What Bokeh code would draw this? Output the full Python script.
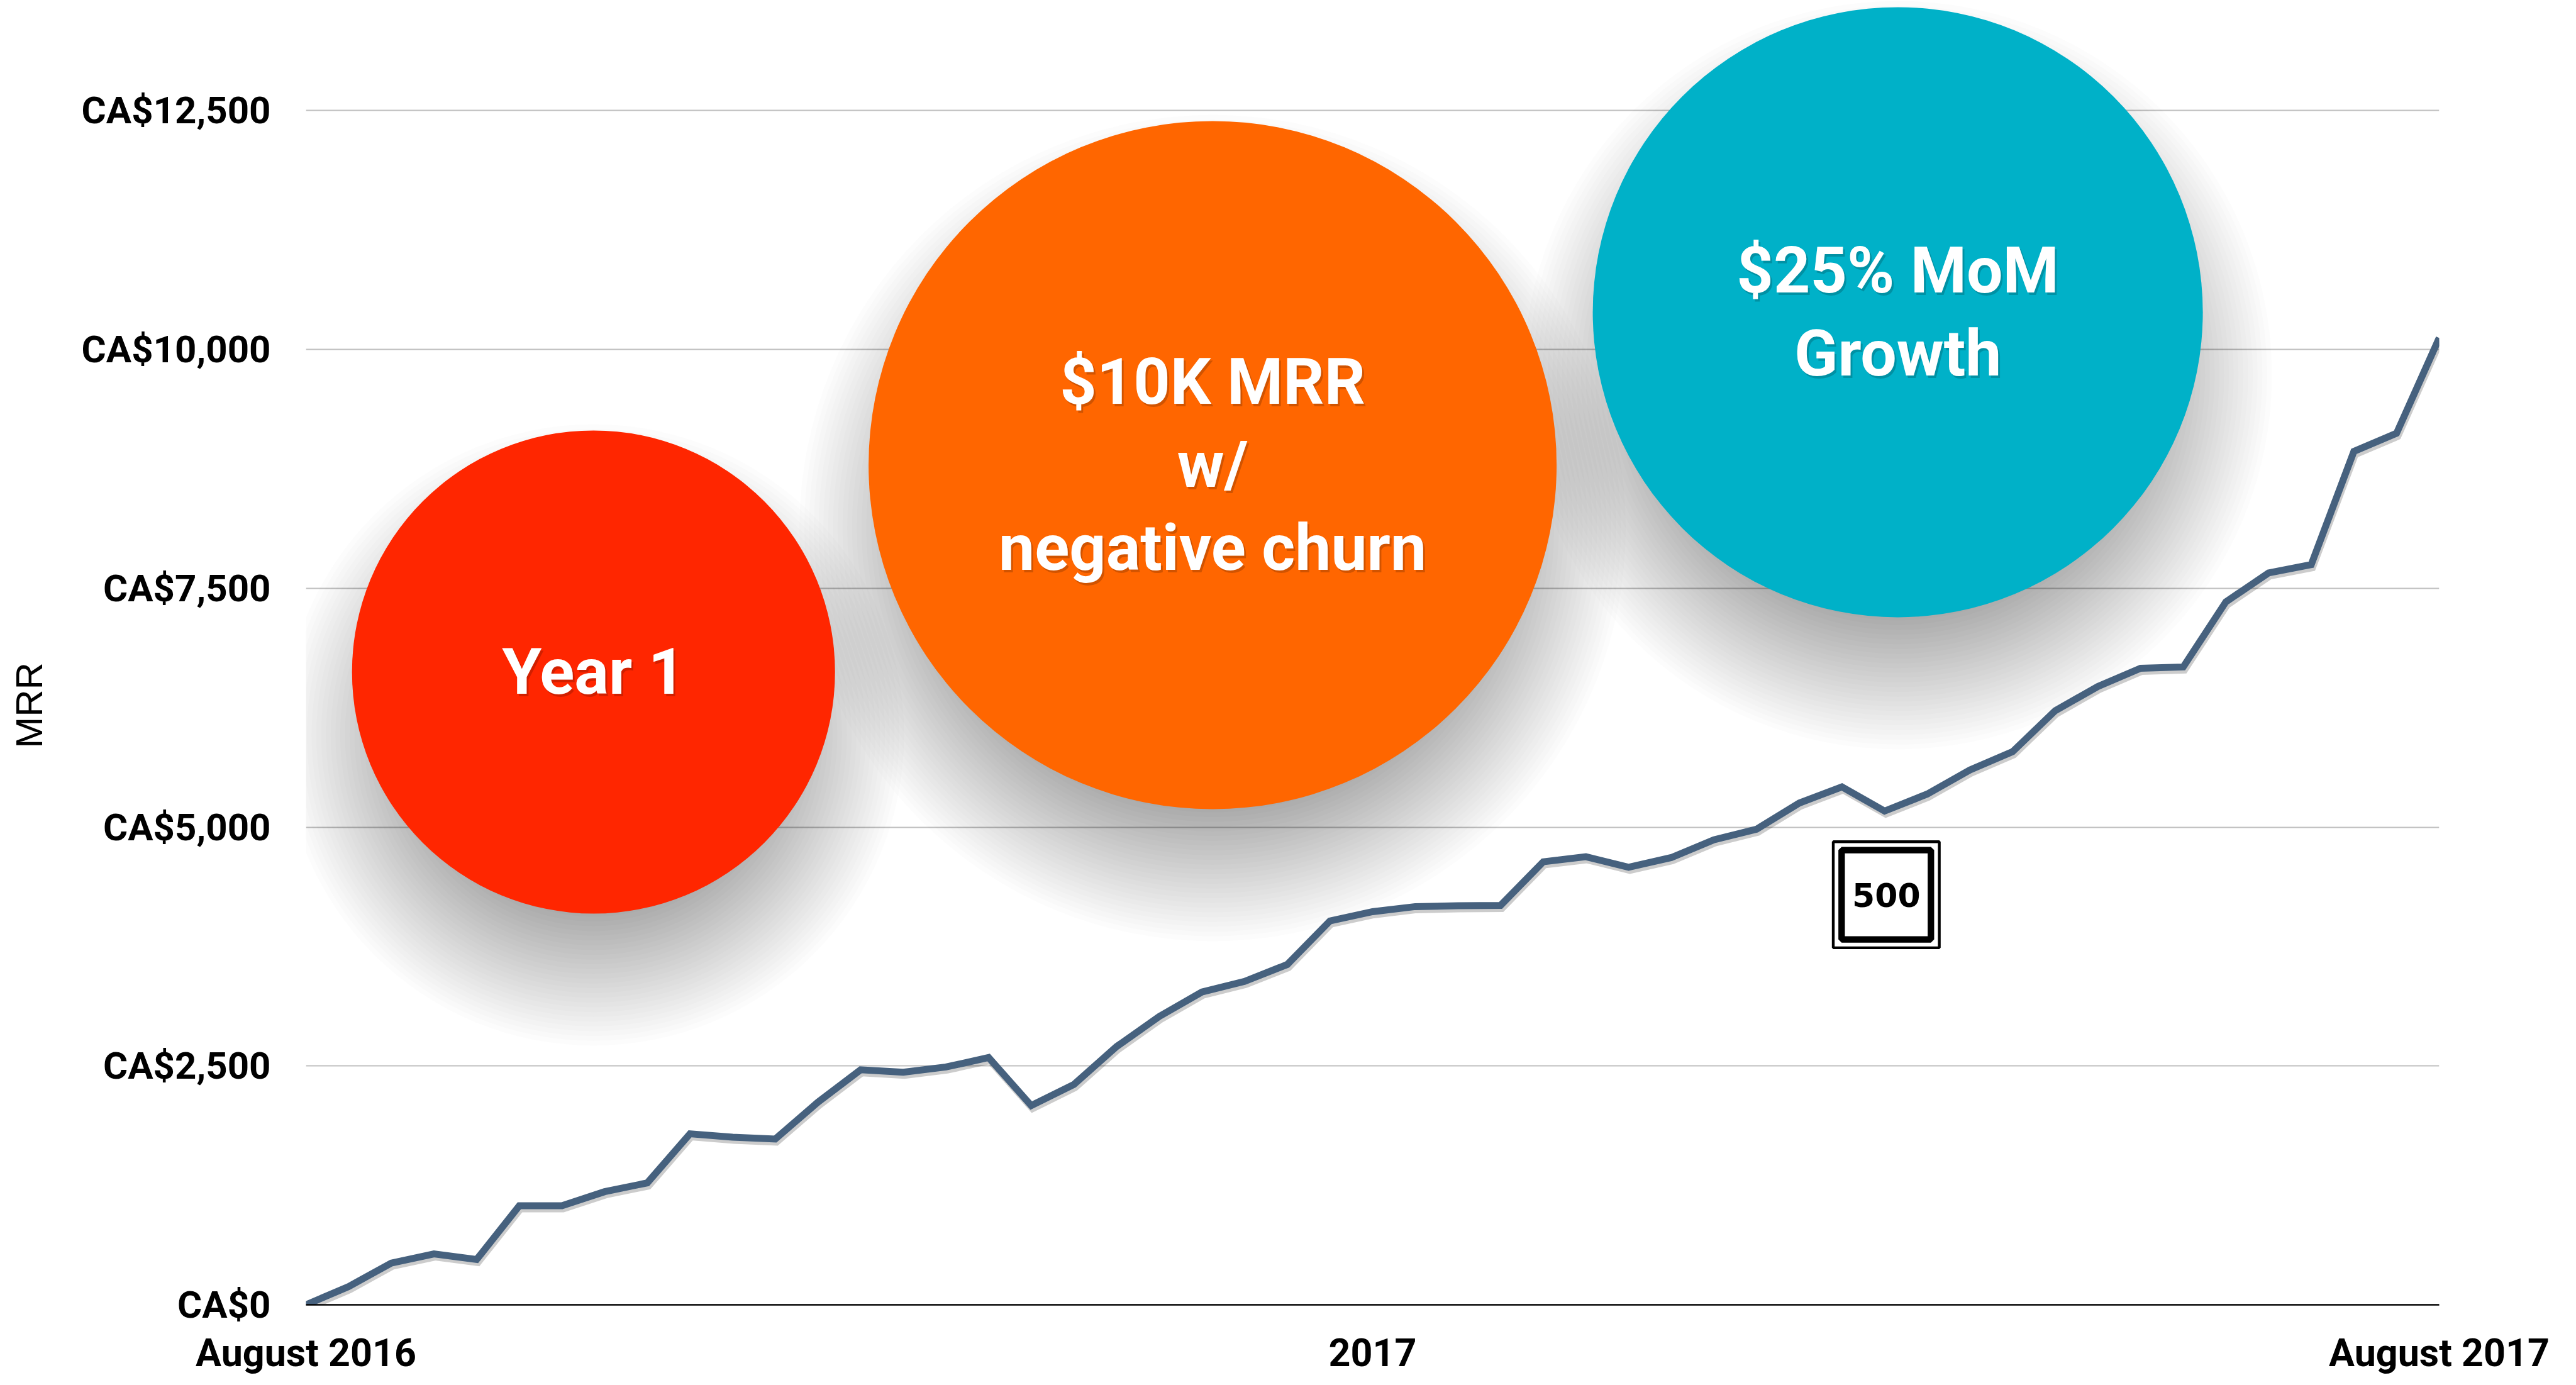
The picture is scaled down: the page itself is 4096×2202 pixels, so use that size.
from bokeh.plotting import figure
from bokeh.models import FixedTicker, Range1d, Label, LinearAxis
from bokeh.embed import file_html
from bokeh.resources import INLINE

# ---------------- data ----------------
week_index = list(range(51))  # weekly points, August 2016 -> August 2017
mrr = [0, 191, 437, 533, 474, 1037, 1037, 1184, 1276, 1790,
       1754, 1735, 2121, 2460, 2434, 2489, 2588, 2085, 2307, 2703,
       3018, 3274, 3385, 3562, 4018, 4115, 4168, 4177, 4181, 4637,
       4690, 4580, 4681, 4867, 4978, 5252, 5421, 5168, 5346, 5598,
       5789, 6219, 6472, 6662, 6676, 7358, 7660, 7748, 8932, 9122,
       10120]

x_tick_positions = [0, 25, 50]
x_tick_labels = ["August 2016", "2017", "August 2017"]
y_ticks = [0, 2500, 5000, 7500, 10000, 12500]
y_tick_labels = ["CA$0", "CA$2,500", "CA$5,000", "CA$7,500", "CA$10,000", "CA$12,500"]
y_axis_title = "MRR"
y_axis_title_at = 6274   # vertical position of the rotated axis title (in MRR units)

bubble_labels = ["Year 1", "$10K MRR\nw/\nnegative churn", "$25% MoM\nGrowth"]
bubble_x = [6.74, 21.25, 37.31]
bubble_y = [6623, 8789, 10389]
bubble_radius_px = [384, 547, 485]
bubble_colors = ["#FF2600", "#FF6600", "#00B1C8"]

logo_text = "500"
logo_x = 37.04
logo_y = 4292

# ---------------- layout ----------------
W, H = 4096, 2202
LEFT, RIGHT, BOTTOM, TOP = 486, 218, 128, 0
X_MAX = 50
Y_MAX = 13654
frame_w = W - LEFT - RIGHT
frame_h = H - BOTTOM - TOP
ppu_x = frame_w / X_MAX
ppu_y = frame_h / Y_MAX

p = figure(width=W, height=H, output_backend="svg", toolbar_location=None,
           x_range=Range1d(0, X_MAX), y_range=Range1d(0, Y_MAX),
           min_border_left=LEFT, min_border_right=RIGHT,
           min_border_bottom=BOTTOM, min_border_top=TOP)
p.outline_line_color = None
p.background_fill_color = "white"
p.border_fill_color = "white"

# axes
p.xaxis.ticker = FixedTicker(ticks=x_tick_positions)
p.xaxis.major_label_overrides = {k: v for k, v in zip(x_tick_positions, x_tick_labels)}
p.xaxis.axis_line_color = "black"
p.xaxis.axis_line_width = 2.5
p.xaxis.major_tick_line_color = None
p.xaxis.minor_tick_line_color = None
p.xaxis.major_tick_out = 0
p.xaxis.major_label_standoff = 40
p.xaxis.major_label_text_font = "Roboto"
p.xaxis.major_label_text_font_style = "bold"
p.xaxis.major_label_text_font_size = "61px"
p.xaxis.major_label_text_color = "black"

p.yaxis.ticker = FixedTicker(ticks=y_ticks)
p.yaxis.major_label_overrides = {k: v for k, v in zip(y_ticks, y_tick_labels)}
p.yaxis.axis_line_color = None
p.yaxis.major_tick_line_color = None
p.yaxis.minor_tick_line_color = None
p.yaxis.major_tick_out = 0
p.yaxis.major_label_standoff = 56
p.yaxis.major_label_text_font = "Roboto"
p.yaxis.major_label_text_font_style = "bold"
p.yaxis.major_label_text_font_size = "60px"
p.yaxis.major_label_text_color = "black"

# outer left axis carrying the rotated "MRR" title
title_axis = LinearAxis(ticker=FixedTicker(ticks=[y_axis_title_at]),
                        major_label_overrides={y_axis_title_at: y_axis_title})
title_axis.axis_line_color = None
title_axis.major_tick_line_color = None
title_axis.minor_tick_line_color = None
title_axis.major_tick_out = 0
title_axis.major_label_standoff = 46
title_axis.major_label_orientation = "vertical"
title_axis.major_label_text_font = "Liberation Sans"
title_axis.major_label_text_font_style = "normal"
title_axis.major_label_text_font_size = "60px"
title_axis.major_label_text_color = "black"
p.add_layout(title_axis, "left")

p.xgrid.visible = False
p.ygrid.ticker = FixedTicker(ticks=y_ticks)
p.ygrid.grid_line_color = "#BFBFBF"
p.ygrid.grid_line_width = 2

# ---------------- bubble shadows ----------------
N = 30
shadow_drop = 100 / ppu_y
blur = 110
a = 1 - 0.7 ** (1.0 / N)
sx, sy, ss = [], [], []
for cx, cy, r in zip(bubble_x, bubble_y, bubble_radius_px):
    for k in range(N):
        s = -blur + 2 * blur * k / (N - 1)
        sx.append(cx)
        sy.append(cy - shadow_drop)
        ss.append(2 * (r + s))
p.scatter(x=sx, y=sy, size=ss, marker="circle", fill_color="black", fill_alpha=a, line_color=None)

# bubbles
p.scatter(x=bubble_x, y=bubble_y, size=[2 * r for r in bubble_radius_px], marker="circle",
          fill_color=bubble_colors, line_color=None)

# ---------------- MRR line ----------------
p.line(x=[w + 2 / ppu_x for w in week_index], y=[m - 5 / ppu_y for m in mrr],
       line_color="black", line_alpha=0.2, line_width=11, line_join="miter")
p.line(x=week_index, y=mrr, line_color="#46617E", line_width=11, line_join="miter")

# ---------------- 500 logo ----------------
p.rect(x=[logo_x], y=[logo_y], width=168.6, height=168.6, width_units="screen", height_units="screen",
       fill_color="white", line_color="black", line_width=4.4)
p.rect(x=[logo_x], y=[logo_y], width=142, height=142, width_units="screen", height_units="screen",
       fill_color=None, line_color="black", line_width=10.3)
p.add_layout(Label(x=logo_x, y=logo_y, text=logo_text, text_font="DejaVu Sans",
                   text_font_style="bold", text_font_size="52px",
                   text_align="center", text_baseline="middle", text_color="black"))

# bubble labels (positions from bubble centre, line spacing in px)
LINE_SP = 132
for cx, cy, lab in zip(bubble_x, bubble_y, bubble_labels):
    lines = lab.split("\n")
    n = len(lines)
    for k, ln in enumerate(lines):
        ly = cy - (k - (n - 1) / 2) * LINE_SP / ppu_y
        p.add_layout(Label(x=cx + 3 / ppu_x, y=ly - 4 / ppu_y, text=ln,
                           text_font="Roboto", text_font_style="bold", text_font_size="102px",
                           text_align="center", text_baseline="middle",
                           text_color="black", text_alpha=0.18))
        p.add_layout(Label(x=cx, y=ly, text=ln,
                           text_font="Roboto", text_font_style="bold", text_font_size="102px",
                           text_align="center", text_baseline="middle", text_color="white"))

open("out.html", "w").write(file_html(p, INLINE))
